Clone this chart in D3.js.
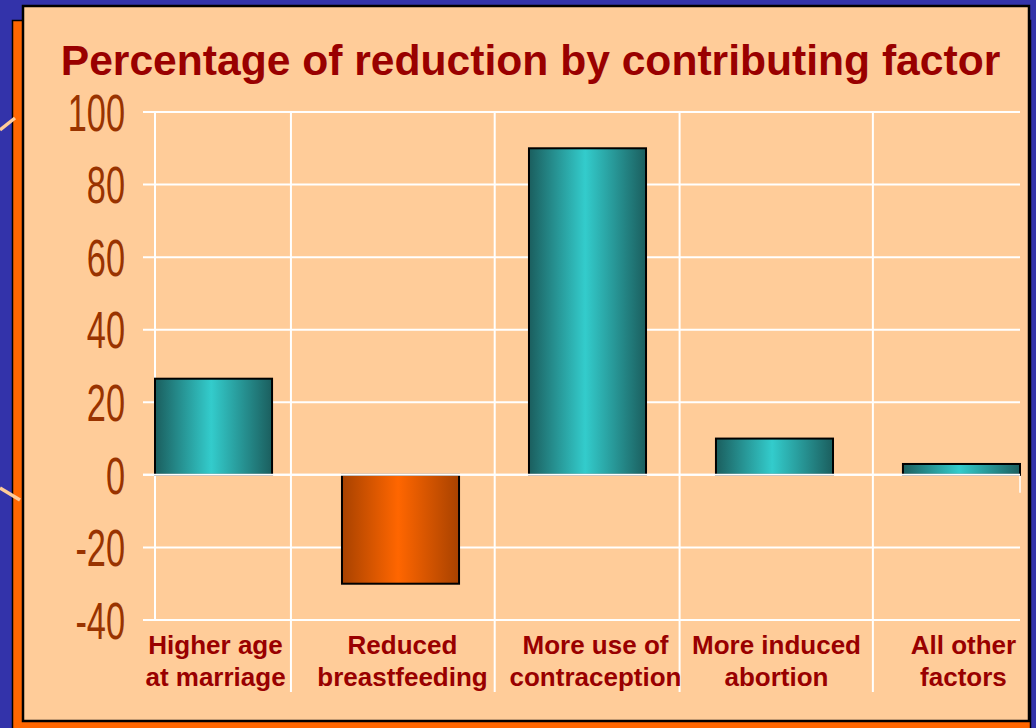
<!DOCTYPE html>
<html lang="en">
<head>
	<meta charset="utf-8" />
	<title>Percentage of reduction by contributing factor</title>
	<style>
		body { margin: 0; padding: 0; background: #3333aa; overflow: hidden; }
		svg { display: block; }
	</style>
	<script src="https://d3js.org/d3.v7.min.js"></script>
</head>
<body>
	<div id="chart"></div>
	<script>
	// data
	const categories = [
		["Higher age", "at marriage"],
		["Reduced", "breastfeeding"],
		["More use of", "contraception"],
		["More induced", "abortion"],
		["All other", "factors"]
	];
	const values = [26.5, -30, 90, 10, 3];
	const yTicks = [100, 80, 60, 40, 20, 0, -20, -40];
	const title = "Percentage of reduction by contributing factor";
	// where the white dividers sit inside the gap between two bars (0 = right edge of left bar)
	const dividerFrac = [0.27, 0.51, 0.48, 0.57];

	const W = 1036, H = 728;
	const svg = d3.select("#chart").append("svg")
		.attr("width", W)
		.attr("height", H);

	// gradients for the "cylinder" look of the bars
	const defs = svg.append("defs");
	function grad(id, edge, mid) {
		const g = defs.append("linearGradient").attr("id", id)
			.attr("x1", 0).attr("x2", 1).attr("y1", 0).attr("y2", 0);
		g.append("stop").attr("offset", "0%").attr("stop-color", edge);
		g.append("stop").attr("offset", "48%").attr("stop-color", mid);
		g.append("stop").attr("offset", "100%").attr("stop-color", edge);
	}
	grad("teal", "#1b5e5e", "#33cccc");
	grad("orng", "#a84200", "#ff6600");

	// slide background bits
	svg.append("rect").attr("width", W).attr("height", H).attr("fill", "#3333aa");
	svg.append("rect")
		.attr("x", 12.5).attr("y", 20.5).attr("width", 1018).attr("height", 720)
		.attr("fill", "#ff6600").attr("stroke", "#000").attr("stroke-width", 1.5);
	svg.append("rect")
		.attr("x", 23).attr("y", 6).attr("width", 1006).attr("height", 715)
		.attr("fill", "#ffcc99").attr("stroke", "#000").attr("stroke-width", 2.5);
	svg.append("line").attr("x1", 0).attr("y1", 130).attr("x2", 15).attr("y2", 118)
		.attr("stroke", "#ffcc99").attr("stroke-width", 3.5);
	svg.append("line").attr("x1", 0).attr("y1", 488).attr("x2", 20).attr("y2", 500)
		.attr("stroke", "#ffcc99").attr("stroke-width", 3.5);

	// title
	svg.append("text")
		.attr("x", 530.5).attr("y", 75)
		.attr("text-anchor", "middle")
		.style("font", "bold 42.6px 'Liberation Sans', Arial, sans-serif")
		.attr("fill", "#990000")
		.text(title);

	// scales
	const y = d3.scaleLinear().domain([-40, 100]).range([620, 112]);
	const x = d3.scaleBand()
		.domain(d3.range(categories.length))
		.range([155, 1020])
		.paddingInner(0.374)
		.paddingOuter(0);
	const gap = x.step() - x.bandwidth();

	// horizontal gridlines
	svg.append("g").selectAll("line")
		.data(yTicks)
		.join("line")
		.attr("x1", 143).attr("x2", 1020)
		.attr("y1", d => y(d)).attr("y2", d => y(d))
		.attr("stroke", "#fff").attr("stroke-width", 2);

	// y axis line and category dividers
	svg.append("line")
		.attr("x1", 155).attr("x2", 155)
		.attr("y1", y(100)).attr("y2", y(-40))
		.attr("stroke", "#fff").attr("stroke-width", 2);
	svg.append("g").selectAll("line")
		.data(dividerFrac)
		.join("line")
		.attr("x1", (f, i) => x(i) + x.bandwidth() + gap * f)
		.attr("x2", (f, i) => x(i) + x.bandwidth() + gap * f)
		.attr("y1", y(100)).attr("y2", 692)
		.attr("stroke", "#fff").attr("stroke-width", 2);
	svg.append("line")
		.attr("x1", 1020).attr("x2", 1020)
		.attr("y1", y(0)).attr("y2", y(0) + 18)
		.attr("stroke", "#fff").attr("stroke-width", 1.5);

	// tick labels (narrow look)
	svg.append("g").selectAll("text")
		.data(yTicks)
		.join("text")
		.attr("transform", d => `translate(125,${y(d)}) scale(0.66,1)`)
		.attr("dy", "0.36em")
		.attr("text-anchor", "end")
		.style("font", "52px 'Liberation Sans', Arial, sans-serif")
		.attr("fill", "#993300")
		.text(d => d);

	// bars
	svg.append("g").selectAll("rect")
		.data(values)
		.join("rect")
		.attr("x", (d, i) => x(i))
		.attr("width", x.bandwidth())
		.attr("y", d => y(Math.max(0, d)))
		.attr("height", d => Math.abs(y(d) - y(0)))
		.attr("fill", d => d < 0 ? "url(#orng)" : "url(#teal)")
		.attr("stroke", "#000").attr("stroke-width", 2);

	// zero line sits over the bars
	svg.append("line")
		.attr("x1", 143).attr("x2", 1020)
		.attr("y1", y(0)).attr("y2", y(0))
		.attr("stroke", "#fff").attr("stroke-width", 2);

	// category labels
	const lab = svg.append("g").selectAll("text")
		.data(categories)
		.join("text")
		.attr("x", (d, i) => x(i) + x.bandwidth() / 2 + (i === 2 ? 8 : 2))
		.attr("text-anchor", "middle")
		.style("font", "bold 26px 'Liberation Sans', Arial, sans-serif")
		.attr("fill", "#990000");
	lab.selectAll("tspan")
		.data(d => d)
		.join("tspan")
		.attr("x", function() { return this.parentNode.getAttribute("x"); })
		.attr("y", (d, j) => 654 + j * 32)
		.text(d => d);
	</script>
</body>
</html>
